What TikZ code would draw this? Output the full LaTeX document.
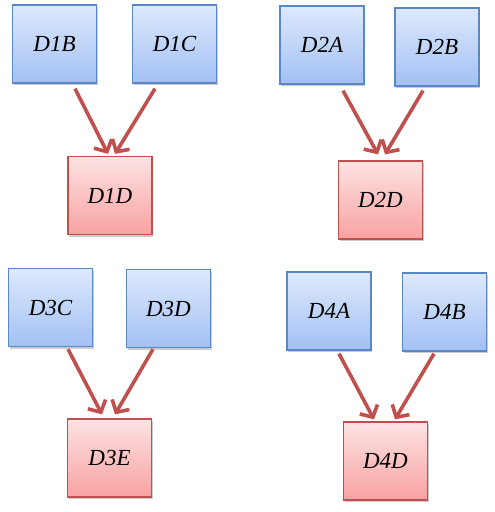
\documentclass[tikz,border=0pt]{standalone}
\usepackage{fontspec}
\setmainfont{Liberation Serif}
\usetikzlibrary{arrows.meta,shadows}
\definecolor{bluetop}{HTML}{DEE9FC}
\definecolor{bluebot}{HTML}{A2C0F4}
\definecolor{blueedge}{HTML}{5A88C6}
\definecolor{redtop}{HTML}{FDE2E2}
\definecolor{redbot}{HTML}{F8A2A2}
\definecolor{rededge}{HTML}{C0504D}
\definecolor{arrowred}{HTML}{C0504D}
\tikzset{
  box/.style={rectangle, minimum width=84pt, minimum height=78pt, inner sep=0pt,
    line width=1.3pt, font=\fontsize{23}{26}\selectfont\itshape,
    drop shadow={shadow xshift=1pt, shadow yshift=-2pt, opacity=0.2, fill=black}},
  bluebox/.style={box, draw=blueedge, top color=bluetop, bottom color=bluebot},
  redbox/.style={box, draw=rededge, top color=redtop, bottom color=redbot},
  link/.style={draw=arrowred, line width=3.6pt, -{Straight Barb[length=9pt,width=20pt]}}
}
\begin{document}
\begin{tikzpicture}[x=1pt,y=-1pt]
\useasboundingbox (0,0) rectangle (495,512);
% group 1
\node[bluebox] (D1B) at (54.5,44) {D1B};
\node[bluebox] (D1C) at (174.5,44) {D1C};
\node[redbox] (D1D) at (110,195.5) {D1D};
% group 2
\node[bluebox] (D2A) at (322,45) {D2A};
\node[bluebox] (D2B) at (437,47) {D2B};
\node[redbox] (D2D) at (380.5,200) {D2D};
% group 3
\node[bluebox] (D3C) at (50.5,307.5) {D3C};
\node[bluebox] (D3D) at (168.5,308.5) {D3D};
\node[redbox] (D3E) at (109.5,458) {D3E};
% group 4
\node[bluebox] (D4A) at (329,311) {D4A};
\node[bluebox] (D4B) at (444.5,312) {D4B};
\node[redbox] (D4D) at (385.5,461) {D4D};
% arrows
\draw[link] ([shift={(20.5,5)}]D1B.south) -- ([shift={(-2,-2)}]D1D.north);
\draw[link] ([shift={(-19.5,5)}]D1C.south) -- ([shift={(5,-2)}]D1D.north);
\draw[link] ([shift={(21,6)}]D2A.south) -- ([shift={(-2.5,-6)}]D2D.north);
\draw[link] ([shift={(-14,4)}]D2B.south) -- ([shift={(4.5,-6)}]D2D.north);
\draw[link] ([shift={(17.5,2)}]D3C.south) -- ([shift={(-7.5,-4)}]D3E.north);
\draw[link] ([shift={(-15.5,1)}]D3D.south) -- ([shift={(5.5,-4)}]D3E.north);
\draw[link] ([shift={(10,3)}]D4A.south) -- ([shift={(-11.5,-2)}]D4D.north);
\draw[link] ([shift={(-10.5,2)}]D4B.south) -- ([shift={(9.5,-2)}]D4D.north);
\end{tikzpicture}
\end{document}
